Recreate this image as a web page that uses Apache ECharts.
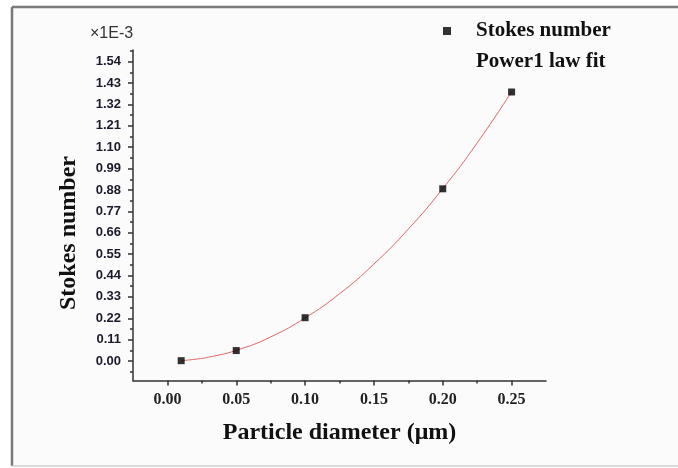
<!DOCTYPE html>
<html>
<head>
<meta charset="utf-8">
<script src="https://cdn.jsdelivr.net/npm/echarts@6/dist/echarts.min.js"></script>
<style>html,body{margin:0;padding:0;background:#fff}#c{width:678px;height:468px}</style>
</head>
<body>
<div id="c"></div>
<script>
// ---- data ----
const diameters = [0.01, 0.05, 0.10, 0.20, 0.25];
const stokes = [0.002, 0.054, 0.223, 0.886, 1.384];
const fitX = [0.01, 0.02, 0.03, 0.05, 0.075, 0.10, 0.125, 0.15, 0.175, 0.20, 0.225, 0.25];
const fitY = [0.002, 0.009, 0.020, 0.055, 0.124, 0.222, 0.346, 0.499, 0.679, 0.887, 1.122, 1.385];
const xMajor = [0.00, 0.05, 0.10, 0.15, 0.20, 0.25];
const xMinor = [0.025, 0.075, 0.125, 0.175, 0.225];
const yMajor = [0.00, 0.11, 0.22, 0.33, 0.44, 0.55, 0.66, 0.77, 0.88, 0.99, 1.10, 1.21, 1.32, 1.43, 1.54];
const yMinor = [-0.055, 0.055, 0.165, 0.275, 0.385, 0.495, 0.605, 0.715, 0.825, 0.935, 1.045, 1.155, 1.265, 1.375, 1.485, 1.595];
const seriesNames = ['Stokes number', 'Power1 law fit'];
const xTitle = 'Particle diameter (\u03bcm)';
const yTitle = 'Stokes number';
const yUnit = '\u00d71E-3';

const chart = echarts.init(document.getElementById('c'), null, {renderer: 'canvas'});
const serif = '"Liberation Serif", "Times New Roman", serif';
const sans = '"Liberation Sans", Arial, sans-serif';
const XMIN = -0.025, XMAX = 0.275, YMIN = -0.1, YMAX = 1.6;

function tickAxis(min, max, pos, values, len) {
  return {
    type: 'value', min: min, max: max, position: pos,
    axisLine: {show: false, onZero: false},
    axisTick: {show: true, customValues: values, length: len, lineStyle: {color: '#333', width: 1.5}},
    axisLabel: {show: false}, splitLine: {show: false}
  };
}

chart.setOption({
  backgroundColor: '#ffffff',
  animation: false,
  grid: {left: 133, right: 132, top: 50, bottom: 87.5, containLabel: false},
  graphic: [
    {type: 'rect', z: -10, shape: {x: 12, y: 7, width: 680, height: 459}, style: {fill: '#fbfbfb'}},
    {type: 'line', z: -5, shape: {x1: 12, y1: 7, x2: 690, y2: 7}, style: {stroke: '#7a7a7a', lineWidth: 2.5}},
    {type: 'line', z: -5, shape: {x1: 12, y1: 7, x2: 12, y2: 466}, style: {stroke: '#7a7a7a', lineWidth: 2.5}},
    {type: 'line', z: -5, shape: {x1: 12, y1: 466, x2: 690, y2: 466}, style: {stroke: '#cfcfcf', lineWidth: 1.5}},
    {type: 'text', left: 90, top: 26, style: {text: yUnit, font: '16px ' + sans, fill: '#333'}},
    {type: 'text', x: 69, y: 233, rotation: Math.PI / 2,
     style: {text: yTitle, font: 'bold 24px ' + serif, fill: '#111', align: 'center', verticalAlign: 'middle'}}
  ],
  legend: {
    orient: 'vertical', left: 438, top: 14, selectedMode: false,
    itemWidth: 8, itemHeight: 8, itemGap: 7,
    textStyle: {fontFamily: serif, fontWeight: 'bold', fontSize: 21, color: '#111', lineHeight: 24, padding: [0, 0, 0, 20]},
    data: [{name: seriesNames[0], icon: 'rect'}, {name: seriesNames[1], icon: 'none'}]
  },
  xAxis: [
    {
      type: 'value', min: XMIN, max: XMAX, position: 'bottom',
      name: xTitle, nameLocation: 'middle', nameGap: 40,
      nameTextStyle: {fontFamily: serif, fontWeight: 'bold', fontSize: 24, color: '#111'},
      axisLine: {show: true, onZero: false, lineStyle: {color: '#333', width: 1.5}},
      axisTick: {show: false},
      axisLabel: {customValues: xMajor, margin: 11, fontFamily: serif, fontWeight: 'bold', fontSize: 16, color: '#222',
        formatter: v => v.toFixed(2)},
      splitLine: {show: false}
    },
    tickAxis(XMIN, XMAX, 'bottom', xMajor, 5),
    tickAxis(XMIN, XMAX, 'bottom', xMinor, 3)
  ],
  yAxis: [
    {
      type: 'value', min: YMIN, max: YMAX, position: 'left',
      axisLine: {show: true, onZero: false, lineStyle: {color: '#333', width: 1.5}},
      axisTick: {show: false},
      axisLabel: {customValues: yMajor, margin: 12, fontFamily: sans, fontWeight: 'bold', fontSize: 13, color: '#1a1a2a',
        formatter: v => v.toFixed(2)},
      splitLine: {show: false}
    },
    tickAxis(YMIN, YMAX, 'left', yMajor, 5),
    tickAxis(YMIN, YMAX, 'left', yMinor, 3)
  ],
  series: [
    {
      name: seriesNames[1], type: 'line', smooth: true, showSymbol: false,
      data: fitX.map((x, i) => [x, fitY[i]]),
      lineStyle: {color: '#e06666', width: 1}, itemStyle: {color: '#e06666'}, z: 2
    },
    {
      name: seriesNames[0], type: 'scatter', symbol: 'rect', symbolSize: 7,
      data: diameters.map((x, i) => [x, stokes[i]]),
      itemStyle: {color: '#000'}, z: 3
    }
  ]
});
</script>
</body>
</html>
